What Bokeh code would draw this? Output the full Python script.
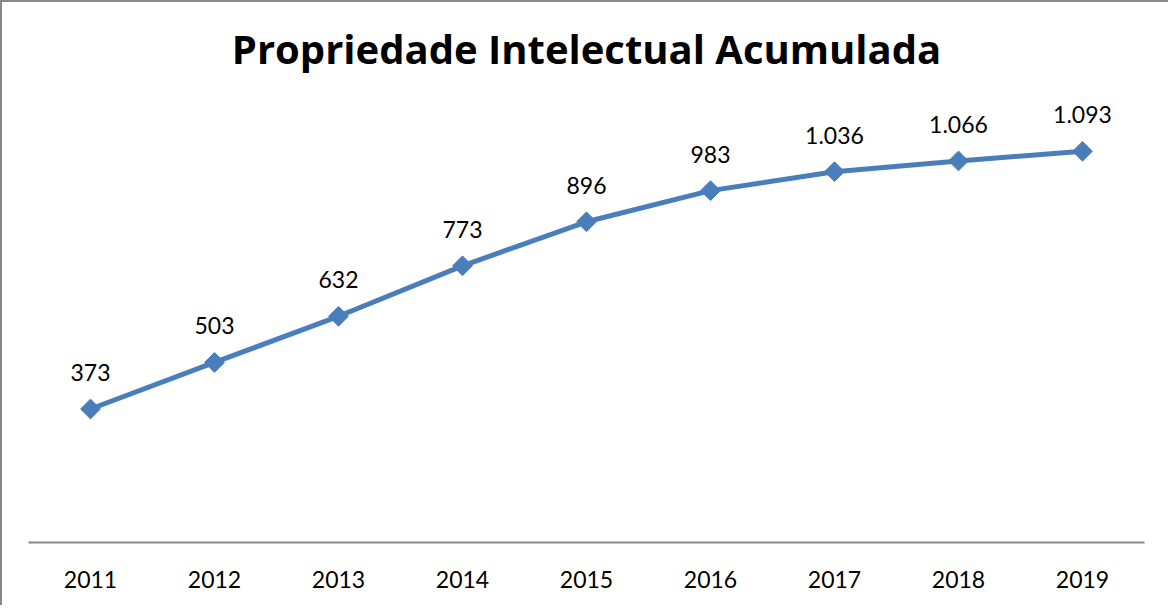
import math
from bokeh.plotting import figure
from bokeh.models import ColumnDataSource, LabelSet
from bokeh.core.properties import value
from bokeh.embed import file_html
from bokeh.resources import INLINE

years = ["2011", "2012", "2013", "2014", "2015", "2016", "2017", "2018", "2019"]
values = [373, 503, 632, 773, 896, 983, 1036, 1066, 1093]
labels = ["373", "503", "632", "773", "896", "983", "1.036", "1.066", "1.093"]

src = ColumnDataSource(dict(x=years, y=values, lab=labels))

p = figure(x_range=years, y_range=(0, 1260), width=1168, height=605,
           output_backend="svg", toolbar_location=None,
           title="Propriedade Intelectual Acumulada",
           min_border_left=26, min_border_right=26, min_border_top=0, min_border_bottom=65)
p.styles = {"border-left": "2px solid #888888", "border-top": "2px solid #888888"}
p.outline_line_color = None
p.grid.grid_line_color = None
p.yaxis.visible = False
p.background_fill_color = "white"
p.border_fill_color = "white"

p.title.align = "center"
p.title.text_font = "Open Sans"
p.title.text_font_style = "bold"
p.title.text_font_size = "40px"
p.title.text_color = "black"
p.title.standoff = 32

ax = p.xaxis[0]
ax.axis_line_color = "#888888"
ax.axis_line_width = 2
ax.major_tick_line_color = None
ax.minor_tick_line_color = None
ax.major_label_text_font = "Lato"
ax.major_label_text_font_size = "23px"
ax.major_label_text_color = "black"
ax.major_label_standoff = 22

p.line("x", "y", source=src, line_color="#4A7EBB", line_width=5)
p.scatter("x", "y", source=src, marker="square", angle=math.pi / 4, size=14,
          fill_color="#4A7EBB", line_color="#4A7EBB")

ls = LabelSet(x="x", y="y", text="lab", source=src, y_offset=28,
              text_align="center", text_baseline="bottom",
              text_font=value("Lato"), text_font_size=value("23px"), text_color="black")
p.add_layout(ls)

open("out.html", "w").write(file_html(p, INLINE))
